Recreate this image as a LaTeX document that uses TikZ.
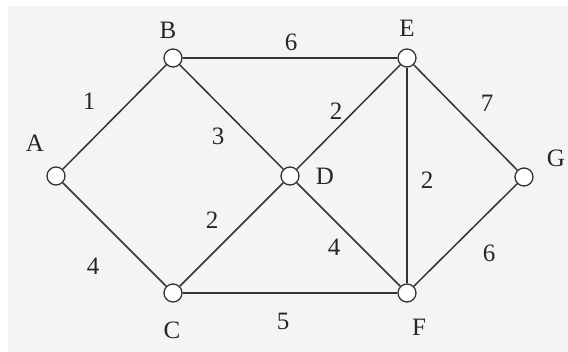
\documentclass[tikz,border=0pt]{standalone}
\usepackage{fontspec}
\setmainfont{Liberation Serif}
\definecolor{bg}{HTML}{F4F4F4}
\definecolor{ln}{HTML}{333333}
\begin{document}
\begin{tikzpicture}[x=1pt,y=-1pt,
  vtx/.style={circle,draw=ln,fill=white,line width=1.3pt,minimum size=18pt,inner sep=0pt},
  edge/.style={draw=ln,line width=1.5pt},
  lbl/.style={font=\fontsize{25}{25}\selectfont,text=black!85,inner sep=0pt},
  wt/.style={font=\fontsize{25}{25}\selectfont,text=black!85,inner sep=0pt}]
\useasboundingbox (0,0) rectangle (568,352);
\fill[white] (0,0) rectangle (568,352);
\fill[bg] (8,6) rectangle (568,352);
\node[vtx] (A) at (56,176) {};
\node[vtx] (B) at (173,58) {};
\node[vtx] (C) at (173,293) {};
\node[vtx] (D) at (290,176) {};
\node[vtx] (E) at (407,58) {};
\node[vtx] (F) at (407,293) {};
\node[vtx] (G) at (524,177) {};
\path[edge] (A) -- (B);
\path[edge] (A) -- (C);
\path[edge] (B) -- (E);
\path[edge] (B) -- (D);
\path[edge] (C) -- (D);
\path[edge] (C) -- (F);
\path[edge] (D) -- (E);
\path[edge] (D) -- (F);
\path[edge] (E) -- (F);
\path[edge] (E) -- (G);
\path[edge] (F) -- (G);
\node[lbl] (lA) at (35,143) {A};
\node[lbl] (lB) at (168,30) {B};
\node[lbl] (lC) at (172,330) {C};
\node[lbl] (lD) at (325,176) {D};
\node[lbl] (lE) at (407,28) {E};
\node[lbl] (lF) at (419,327) {F};
\node[lbl] (lG) at (556,158) {G};
\node[wt] (w1) at (89,101) {1};
\node[wt] (w2) at (218,136) {3};
\node[wt] (w3) at (291,42) {6};
\node[wt] (w4) at (336,111) {2};
\node[wt] (w5) at (487,103) {7};
\node[wt] (w6) at (212,220) {2};
\node[wt] (w7) at (93,266) {4};
\node[wt] (w8) at (283,321) {5};
\node[wt] (w9) at (427,180) {2};
\node[wt] (w10) at (334,247) {4};
\node[wt] (w11) at (489,253) {6};
\end{tikzpicture}
\end{document}
